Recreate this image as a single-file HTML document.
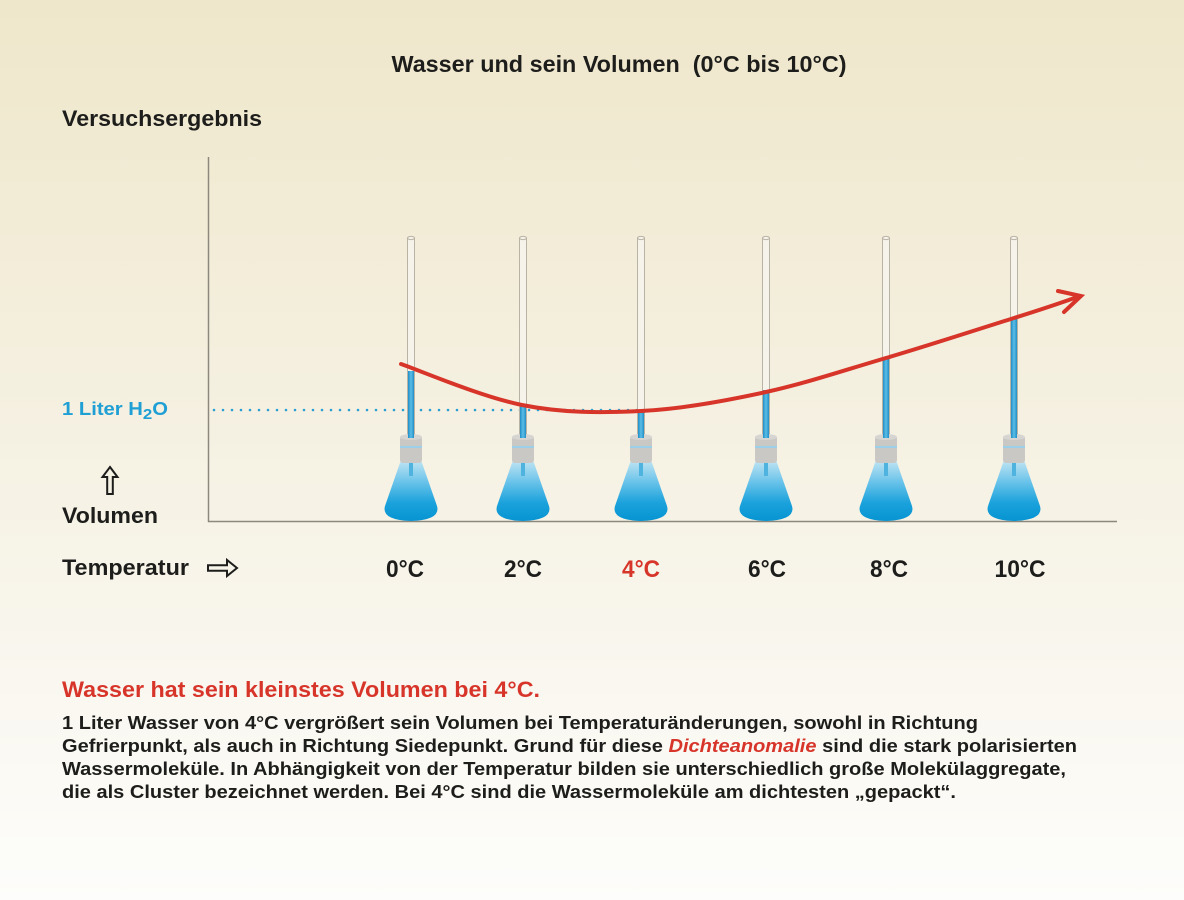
<!DOCTYPE html>
<html><head><meta charset="utf-8"><style>
html,body{margin:0;padding:0;width:1184px;height:900px;overflow:hidden}
svg{display:block}
text{font-family:"Liberation Sans",Arial,sans-serif;font-weight:bold}
</style></head><body>
<svg width="1184" height="900" viewBox="0 0 1184 900" xmlns="http://www.w3.org/2000/svg">
<defs>
<linearGradient id="bg" x1="0" y1="0" x2="0" y2="1">
<stop offset="0" stop-color="#efe7cb"/>
<stop offset="0.4" stop-color="#f4efde"/>
<stop offset="0.75" stop-color="#f9f7ef"/>
<stop offset="1" stop-color="#fdfdfb"/>
</linearGradient>
<linearGradient id="fl" x1="0" y1="0" x2="0" y2="1">
<stop offset="0" stop-color="#c2e5f3"/>
<stop offset="0.35" stop-color="#6cc4ea"/>
<stop offset="0.7" stop-color="#1ba2dc"/>
<stop offset="1" stop-color="#0694d1"/>
</linearGradient>
<linearGradient id="col" x1="0" y1="0" x2="1" y2="0">
<stop offset="0" stop-color="#1f8fc6"/>
<stop offset="0.5" stop-color="#5cbde6"/>
<stop offset="1" stop-color="#1f8fc6"/>
</linearGradient>
<g id="flask">
<rect x="-3.5" y="238" width="7" height="200" fill="#f6f3ea" stroke="#b9b3a6" stroke-width="1"/>
<ellipse cx="0" cy="238" rx="3.5" ry="1.6" fill="#f6f3ea" stroke="#b9b3a6" stroke-width="1"/>
<path d="M-10,460 L10,460 L26,506 Q30,520 0,521 Q-30,520 -26,506 Z" fill="url(#fl)"/>
<rect x="-2" y="460" width="4" height="16" fill="#4fb3e0"/>
<rect x="-11" y="436" width="22" height="27" rx="3" fill="#c9c8c5"/>
<ellipse cx="0" cy="437" rx="11" ry="3" fill="#d6d5d2"/>
<line x1="-11" y1="447" x2="11" y2="447" stroke="#9ccfe8" stroke-width="2"/>
</g>
</defs>
<rect width="1184" height="900" fill="url(#bg)"/>

<text x="619" y="72" font-size="23" text-anchor="middle" fill="#1d1d1b" textLength="455" lengthAdjust="spacingAndGlyphs" xml:space="preserve">Wasser und sein Volumen  (0°C bis 10°C)</text>
<text x="62" y="126" font-size="22" fill="#1d1d1b" textLength="200" lengthAdjust="spacingAndGlyphs">Versuchsergebnis</text>

<!-- axes -->
<line x1="208.5" y1="157" x2="208.5" y2="522" stroke="#8d887d" stroke-width="1.5"/>
<line x1="208" y1="521.5" x2="1117" y2="521.5" stroke="#8d887d" stroke-width="1.5"/>

<!-- dotted line -->
<line x1="214" y1="410" x2="640" y2="410" stroke="#2aa0d2" stroke-width="2.6" stroke-linecap="round" stroke-dasharray="0 9"/>

<!-- flasks -->
<use href="#flask" x="411"/>
<use href="#flask" x="523"/>
<use href="#flask" x="641"/>
<use href="#flask" x="766"/>
<use href="#flask" x="886"/>
<use href="#flask" x="1014"/>

<!-- blue columns -->
<rect x="408" y="371" width="6" height="67" fill="url(#col)"/>
<rect x="520" y="404" width="6" height="34" fill="url(#col)"/>
<rect x="638" y="410" width="6" height="28" fill="url(#col)"/>
<rect x="763" y="390" width="6" height="48" fill="url(#col)"/>
<rect x="883" y="358" width="6" height="80" fill="url(#col)"/>
<rect x="1011" y="317" width="6" height="121" fill="url(#col)"/>

<!-- red curve -->
<path d="M401,364 C421,371 482,397 522,405 C562,413 600,413 641,411 C682,409 725,401 766,392 C807,383 845,370 886,358 C927,346 982,328 1014,318 C1046,308 1069,300 1080,296" fill="none" stroke="#d8352a" stroke-width="4" stroke-linecap="round"/>
<path d="M1058,291 L1081,296 L1064,312" fill="none" stroke="#d8352a" stroke-width="4" stroke-linecap="round" stroke-linejoin="miter"/>

<!-- left labels -->
<text x="62" y="415" font-size="18" fill="#1f9fd4" textLength="106" lengthAdjust="spacingAndGlyphs">1 Liter H<tspan font-size="15" dy="4">2</tspan><tspan dy="-4">O</tspan></text>
<path d="M110,467 L117.5,477 L112.8,477 L112.8,494 L107.2,494 L107.2,477 L102.5,477 Z" fill="none" stroke="#1d1d1b" stroke-width="2" stroke-linejoin="miter"/>
<text x="62" y="523" font-size="22" fill="#1d1d1b" textLength="96" lengthAdjust="spacingAndGlyphs">Volumen</text>
<text x="62" y="575" font-size="22" fill="#1d1d1b" textLength="127" lengthAdjust="spacingAndGlyphs">Temperatur</text>
<path d="M237,568 L227,560 L227,565.2 L208,565.2 L208,570.8 L227,570.8 L227,576 Z" fill="none" stroke="#1d1d1b" stroke-width="2" stroke-linejoin="miter"/>

<!-- temperature labels -->
<g font-size="24" fill="#1d1d1b" text-anchor="middle">
<text x="405" y="577" textLength="38" lengthAdjust="spacingAndGlyphs">0°C</text>
<text x="523" y="577" textLength="38" lengthAdjust="spacingAndGlyphs">2°C</text>
<text x="641" y="577" fill="#d8352a" textLength="38" lengthAdjust="spacingAndGlyphs">4°C</text>
<text x="767" y="577" textLength="38" lengthAdjust="spacingAndGlyphs">6°C</text>
<text x="889" y="577" textLength="38" lengthAdjust="spacingAndGlyphs">8°C</text>
<text x="1020" y="577" textLength="51" lengthAdjust="spacingAndGlyphs">10°C</text>
</g>

<!-- bottom text -->
<text x="62" y="697" font-size="22" fill="#d8352a" textLength="478" lengthAdjust="spacingAndGlyphs">Wasser hat sein kleinstes Volumen bei 4°C.</text>
<g font-size="18.5" fill="#1d1d1b">
<text x="62" y="729" textLength="916" lengthAdjust="spacingAndGlyphs">1 Liter Wasser von 4°C vergrößert sein Volumen bei Temperaturänderungen, sowohl in Richtung</text>
<text x="62" y="752" textLength="1015" lengthAdjust="spacingAndGlyphs">Gefrierpunkt, als auch in Richtung Siedepunkt. Grund für diese <tspan fill="#d8352a" font-style="italic">Dichteanomalie</tspan> sind die stark polarisierten</text>
<text x="62" y="775" textLength="1004" lengthAdjust="spacingAndGlyphs">Wassermoleküle. In Abhängigkeit von der Temperatur bilden sie unterschiedlich große Molekülaggregate,</text>
<text x="62" y="798" textLength="894" lengthAdjust="spacingAndGlyphs">die als Cluster bezeichnet werden. Bei 4°C sind die Wassermoleküle am dichtesten „gepackt“.</text>
</g>
</svg>
</body></html>
